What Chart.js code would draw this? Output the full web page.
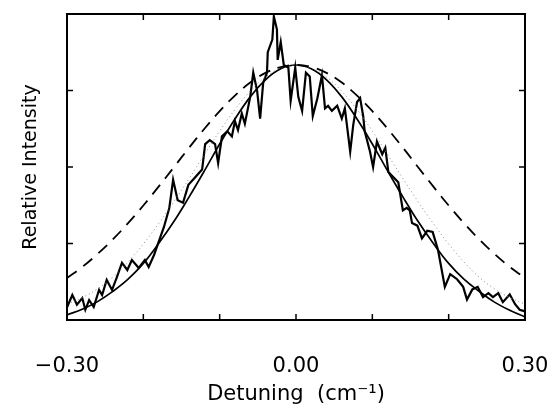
<!DOCTYPE html>
<html>
<head>
<meta charset="utf-8">
<script src="https://cdn.jsdelivr.net/npm/chart.js@4/dist/chart.umd.min.js"></script>
<style>
  html, body { margin: 0; padding: 0; background: #fff; }
</style>
</head>
<body>
<canvas id="chart" width="549" height="407"></canvas>
<script>
// Measured spectrum (noisy trace), detuning in cm^-1
const noisyX = [-0.300, -0.293, -0.287, -0.280, -0.276, -0.271, -0.265, -0.258, -0.254, -0.248,
  -0.241, -0.235, -0.228, -0.221, -0.215, -0.206, -0.198, -0.193, -0.186, -0.179,
  -0.173, -0.166, -0.161, -0.155, -0.148, -0.141, -0.132, -0.123, -0.119, -0.113,
  -0.106, -0.102, -0.097, -0.090, -0.084, -0.080, -0.076, -0.071, -0.067, -0.060,
  -0.056, -0.051, -0.047, -0.043, -0.038, -0.037, -0.031, -0.029, -0.025, -0.024,
  -0.020, -0.016, -0.010, -0.007, -0.001, 0.003, 0.008, 0.013, 0.018, 0.022,
  0.028, 0.034, 0.038, 0.042, 0.047, 0.054, 0.060, 0.064, 0.071, 0.075,
  0.080, 0.084, 0.088, 0.090, 0.097, 0.101, 0.106, 0.113, 0.117, 0.121,
  0.134, 0.140, 0.145, 0.149, 0.152, 0.159, 0.165, 0.172, 0.179, 0.186,
  0.195, 0.202, 0.211, 0.219, 0.224, 0.231, 0.238, 0.245, 0.252, 0.258,
  0.265, 0.271, 0.280, 0.287, 0.293, 0.299];
const noisyY = [0.050, 0.098, 0.060, 0.086, 0.040, 0.078, 0.051, 0.118, 0.098, 0.157,
  0.118, 0.165, 0.224, 0.196, 0.235, 0.204, 0.235, 0.208, 0.255, 0.314,
  0.365, 0.439, 0.550, 0.470, 0.460, 0.530, 0.560, 0.590, 0.690, 0.705,
  0.690, 0.615, 0.720, 0.740, 0.720, 0.780, 0.745, 0.810, 0.770, 0.875,
  0.970, 0.900, 0.790, 0.930, 0.970, 1.050, 1.100, 1.190, 1.140, 1.020,
  1.090, 1.000, 0.990, 0.860, 0.990, 0.875, 0.820, 0.970, 0.955, 0.800,
  0.870, 0.960, 0.830, 0.840, 0.820, 0.840, 0.790, 0.830, 0.660, 0.765,
  0.855, 0.870, 0.800, 0.740, 0.660, 0.600, 0.700, 0.650, 0.675, 0.580,
  0.540, 0.430, 0.440, 0.430, 0.380, 0.370, 0.320, 0.350, 0.345, 0.275,
  0.130, 0.180, 0.160, 0.130, 0.080, 0.120, 0.130, 0.090, 0.105, 0.090,
  0.105, 0.070, 0.100, 0.062, 0.040, 0.035];

// Model curves sampled every 0.02 cm^-1
const curveX = [-0.30, -0.28, -0.26, -0.24, -0.22, -0.20, -0.18, -0.16, -0.14, -0.12, -0.10,
  -0.08, -0.06, -0.04, -0.02, 0.00, 0.02, 0.04, 0.06, 0.08, 0.10,
  0.12, 0.14, 0.16, 0.18, 0.20, 0.22, 0.24, 0.26, 0.28, 0.30];
const solidY = [0.020, 0.042, 0.072, 0.112, 0.160, 0.222, 0.300, 0.386, 0.483, 0.585, 0.690,
  0.788, 0.875, 0.942, 0.985, 1.000, 0.985, 0.942, 0.875, 0.788, 0.690,
  0.585, 0.483, 0.386, 0.300, 0.222, 0.160, 0.112, 0.070, 0.038, 0.012];
const dottedY = [0.062, 0.088, 0.122, 0.168, 0.228, 0.298, 0.378, 0.464, 0.555, 0.649, 0.741,
  0.825, 0.897, 0.953, 0.988, 1.000, 0.988, 0.953, 0.897, 0.825, 0.741,
  0.649, 0.555, 0.464, 0.378, 0.298, 0.228, 0.168, 0.122, 0.088, 0.062];
const dashedY = [0.165, 0.208, 0.259, 0.316, 0.380, 0.449, 0.523, 0.599, 0.676, 0.750, 0.819,
  0.880, 0.931, 0.969, 0.992, 1.000, 0.992, 0.969, 0.931, 0.880, 0.819,
  0.750, 0.676, 0.599, 0.523, 0.449, 0.380, 0.316, 0.259, 0.208, 0.165];

const xTickLabels = ["\u22120.30", "0.00", "0.30"];
const yTicks = [0.3, 0.6, 0.9];
const xTicks = [-0.2, -0.1, 0, 0.1, 0.2];

function pts(xs, ys) {
  return xs.map((x, i) => ({ x: x, y: ys[i] }));
}

// frame with inward tick marks on all four sides
const framePlugin = {
  id: "frame",
  afterDatasetsDraw(chart) {
    const { ctx, chartArea: a, scales } = chart;
    const len = 6;
    ctx.save();
    ctx.strokeStyle = "#000";
    ctx.lineWidth = 1.5;
    ctx.beginPath();
    xTicks.forEach(v => {
      const px = scales.x.getPixelForValue(v);
      ctx.moveTo(px, a.bottom); ctx.lineTo(px, a.bottom - len);
      ctx.moveTo(px, a.top); ctx.lineTo(px, a.top + len);
    });
    yTicks.forEach(v => {
      const py = scales.y.getPixelForValue(v);
      ctx.moveTo(a.left, py); ctx.lineTo(a.left + len, py);
      ctx.moveTo(a.right, py); ctx.lineTo(a.right - len, py);
    });
    ctx.stroke();
    ctx.lineWidth = 2;
    ctx.strokeRect(a.left, a.top, a.right - a.left, a.bottom - a.top);
    ctx.restore();
  }
};

new Chart(document.getElementById("chart").getContext("2d"), {
  type: "line",
  data: {
    datasets: [
      {
        data: pts(curveX, dashedY),
        borderColor: "#000",
        borderWidth: 1.8,
        borderDash: [12, 8],
        pointRadius: 0,
        tension: 0.4
      },
      {
        data: pts(curveX, dottedY),
        borderColor: "#888",
        borderWidth: 1,
        borderDash: [1, 3],
        pointRadius: 0,
        tension: 0.4
      },
      {
        data: pts(curveX, solidY),
        borderColor: "#000",
        borderWidth: 1.7,
        pointRadius: 0,
        tension: 0.4
      },
      {
        data: pts(noisyX, noisyY),
        borderColor: "#000",
        borderWidth: 2.2,
        pointRadius: 0,
        tension: 0
      }
    ]
  },
  options: {
    responsive: false,
    animation: false,
    layout: { padding: { left: 0, right: 24, top: 14, bottom: 0 } },
    plugins: { legend: { display: false }, tooltip: { enabled: false } },
    scales: {
      x: {
        type: "linear",
        min: -0.3,
        max: 0.3,
        grid: { display: false, drawTicks: false },
        border: { display: false },
        ticks: {
          stepSize: 0.1,
          autoSkip: false,
          maxRotation: 0,
          padding: 34,
          color: "#000",
          font: { family: "DejaVu Sans", size: 21 },
          callback: function(value) {
            const k = Math.round(value * 10);
            if (k === -3) return xTickLabels[0];
            if (k === 0) return xTickLabels[1];
            if (k === 3) return xTickLabels[2];
            return "";
          }
        },
        title: {
          display: true,
          text: "Detuning  (cm\u207B\u00B9)",
          color: "#000",
          font: { family: "DejaVu Sans", size: 21 },
          padding: { top: 0, bottom: 0 }
        },
        afterFit(scale) {
          scale.height = 87;
          scale.paddingLeft = 0;
          scale.paddingRight = 0;
        }
      },
      y: {
        min: 0,
        max: 1.2,
        grid: { display: false, drawTicks: false },
        border: { display: false },
        ticks: { display: false, stepSize: 0.3 },
        title: {
          display: true,
          text: "Relative Intensity",
          color: "#000",
          font: { family: "DejaVu Sans", size: 19 },
          padding: { top: 20, bottom: 0 }
        },
        afterFit(scale) {
          scale.width = 67;
        }
      }
    }
  },
  plugins: [framePlugin]
});
</script>
</body>
</html>
